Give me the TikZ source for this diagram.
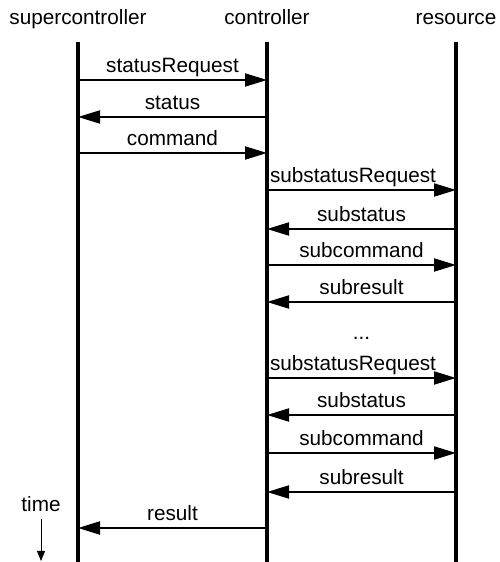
\documentclass[tikz,border=0pt]{standalone}
\usepackage{fontspec}
\setmainfont{Liberation Sans}
\usetikzlibrary{arrows.meta}

\begin{document}
\begin{tikzpicture}[
    actor/.style={
        font=\fontsize{11.8pt}{14pt}\selectfont,
        anchor=base,
        inner sep=0pt
    },
    lifeline/.style={
        line width=1.8pt
    },
    msg/.style={
        line width=1.1pt,
        -{Triangle[length=0.44cm,width=0.26cm]}
    },
    lbl/.style={
        font=\fontsize{11.8pt}{14pt}\selectfont,
        anchor=base,
        inner sep=0pt,
        yshift=0.14cm
    }
]

\useasboundingbox (0,0) rectangle (9.98,11.24);

% ============================================================
% Actors and their lifelines
% ============================================================

\node[actor] (sup) at (1.56,10.74) {supercontroller};
\node[actor] (ctl) at (5.34,10.74) {controller};
\node[actor] (res) at (9.12,10.74) {resource};

\coordinate (top) at (0,10.40);
\coordinate (bot) at (0,0);

\draw[lifeline] (sup |- top) -- (sup |- bot);
\draw[lifeline] (ctl |- top) -- (ctl |- bot);
\draw[lifeline] (res |- top) -- (res |- bot);

% ============================================================
% Message rows
% ============================================================

\coordinate (m1)  at (0,9.64);
\coordinate (m2)  at (0,8.90);
\coordinate (m3)  at (0,8.18);
\coordinate (m4)  at (0,7.44);
\coordinate (m5)  at (0,6.66);
\coordinate (m6)  at (0,5.94);
\coordinate (m7)  at (0,5.20);
\coordinate (gap) at (0,4.30);
\coordinate (m8)  at (0,3.68);
\coordinate (m9)  at (0,2.94);
\coordinate (m10) at (0,2.18);
\coordinate (m11) at (0,1.40);
\coordinate (m12) at (0,0.68);

% ============================================================
% supercontroller <-> controller
% ============================================================

\draw[msg] (sup |- m1) -- node[lbl] (lstatreq) {statusRequest} (ctl |- m1);
\draw[msg] (ctl |- m2) -- node[lbl] (lstat) {status} (sup |- m2);
\draw[msg] (sup |- m3) -- node[lbl] (lcmd) {command} (ctl |- m3);

% ============================================================
% controller <-> resource, first round
% ============================================================

\draw[msg] (ctl |- m4) -- node[lbl, xshift=-0.17cm] (lsubreq1) {substatusRequest} (res |- m4);
\draw[msg] (res |- m5) -- node[lbl] (lsubstat1) {substatus} (ctl |- m5);
\draw[msg] (ctl |- m6) -- node[lbl] (lsubcmd1) {subcommand} (res |- m6);
\draw[msg] (res |- m7) -- node[lbl] (lsubres1) {subresult} (ctl |- m7);

\path (ctl |- gap) -- node[lbl] (dots) {...} (res |- gap);

% ============================================================
% controller <-> resource, last round
% ============================================================

\draw[msg] (ctl |- m8) -- node[lbl, xshift=-0.17cm] (lsubreq2) {substatusRequest} (res |- m8);
\draw[msg] (res |- m9) -- node[lbl] (lsubstat2) {substatus} (ctl |- m9);
\draw[msg] (ctl |- m10) -- node[lbl] (lsubcmd2) {subcommand} (res |- m10);
\draw[msg] (res |- m11) -- node[lbl] (lsubres2) {subresult} (ctl |- m11);

% ============================================================
% result and time axis
% ============================================================

\draw[msg] (ctl |- m12) -- node[lbl] (lres) {result} (sup |- m12);

\node[actor] (time) at (0.82,1.00) {time};
\coordinate (tend) at (0.82,0.02);
\draw[line width=0.5pt, -{Triangle[length=0.2cm,width=0.16cm]}]
    (time.south) ++(0,-0.12) -- (tend);

\end{tikzpicture}
\end{document}
